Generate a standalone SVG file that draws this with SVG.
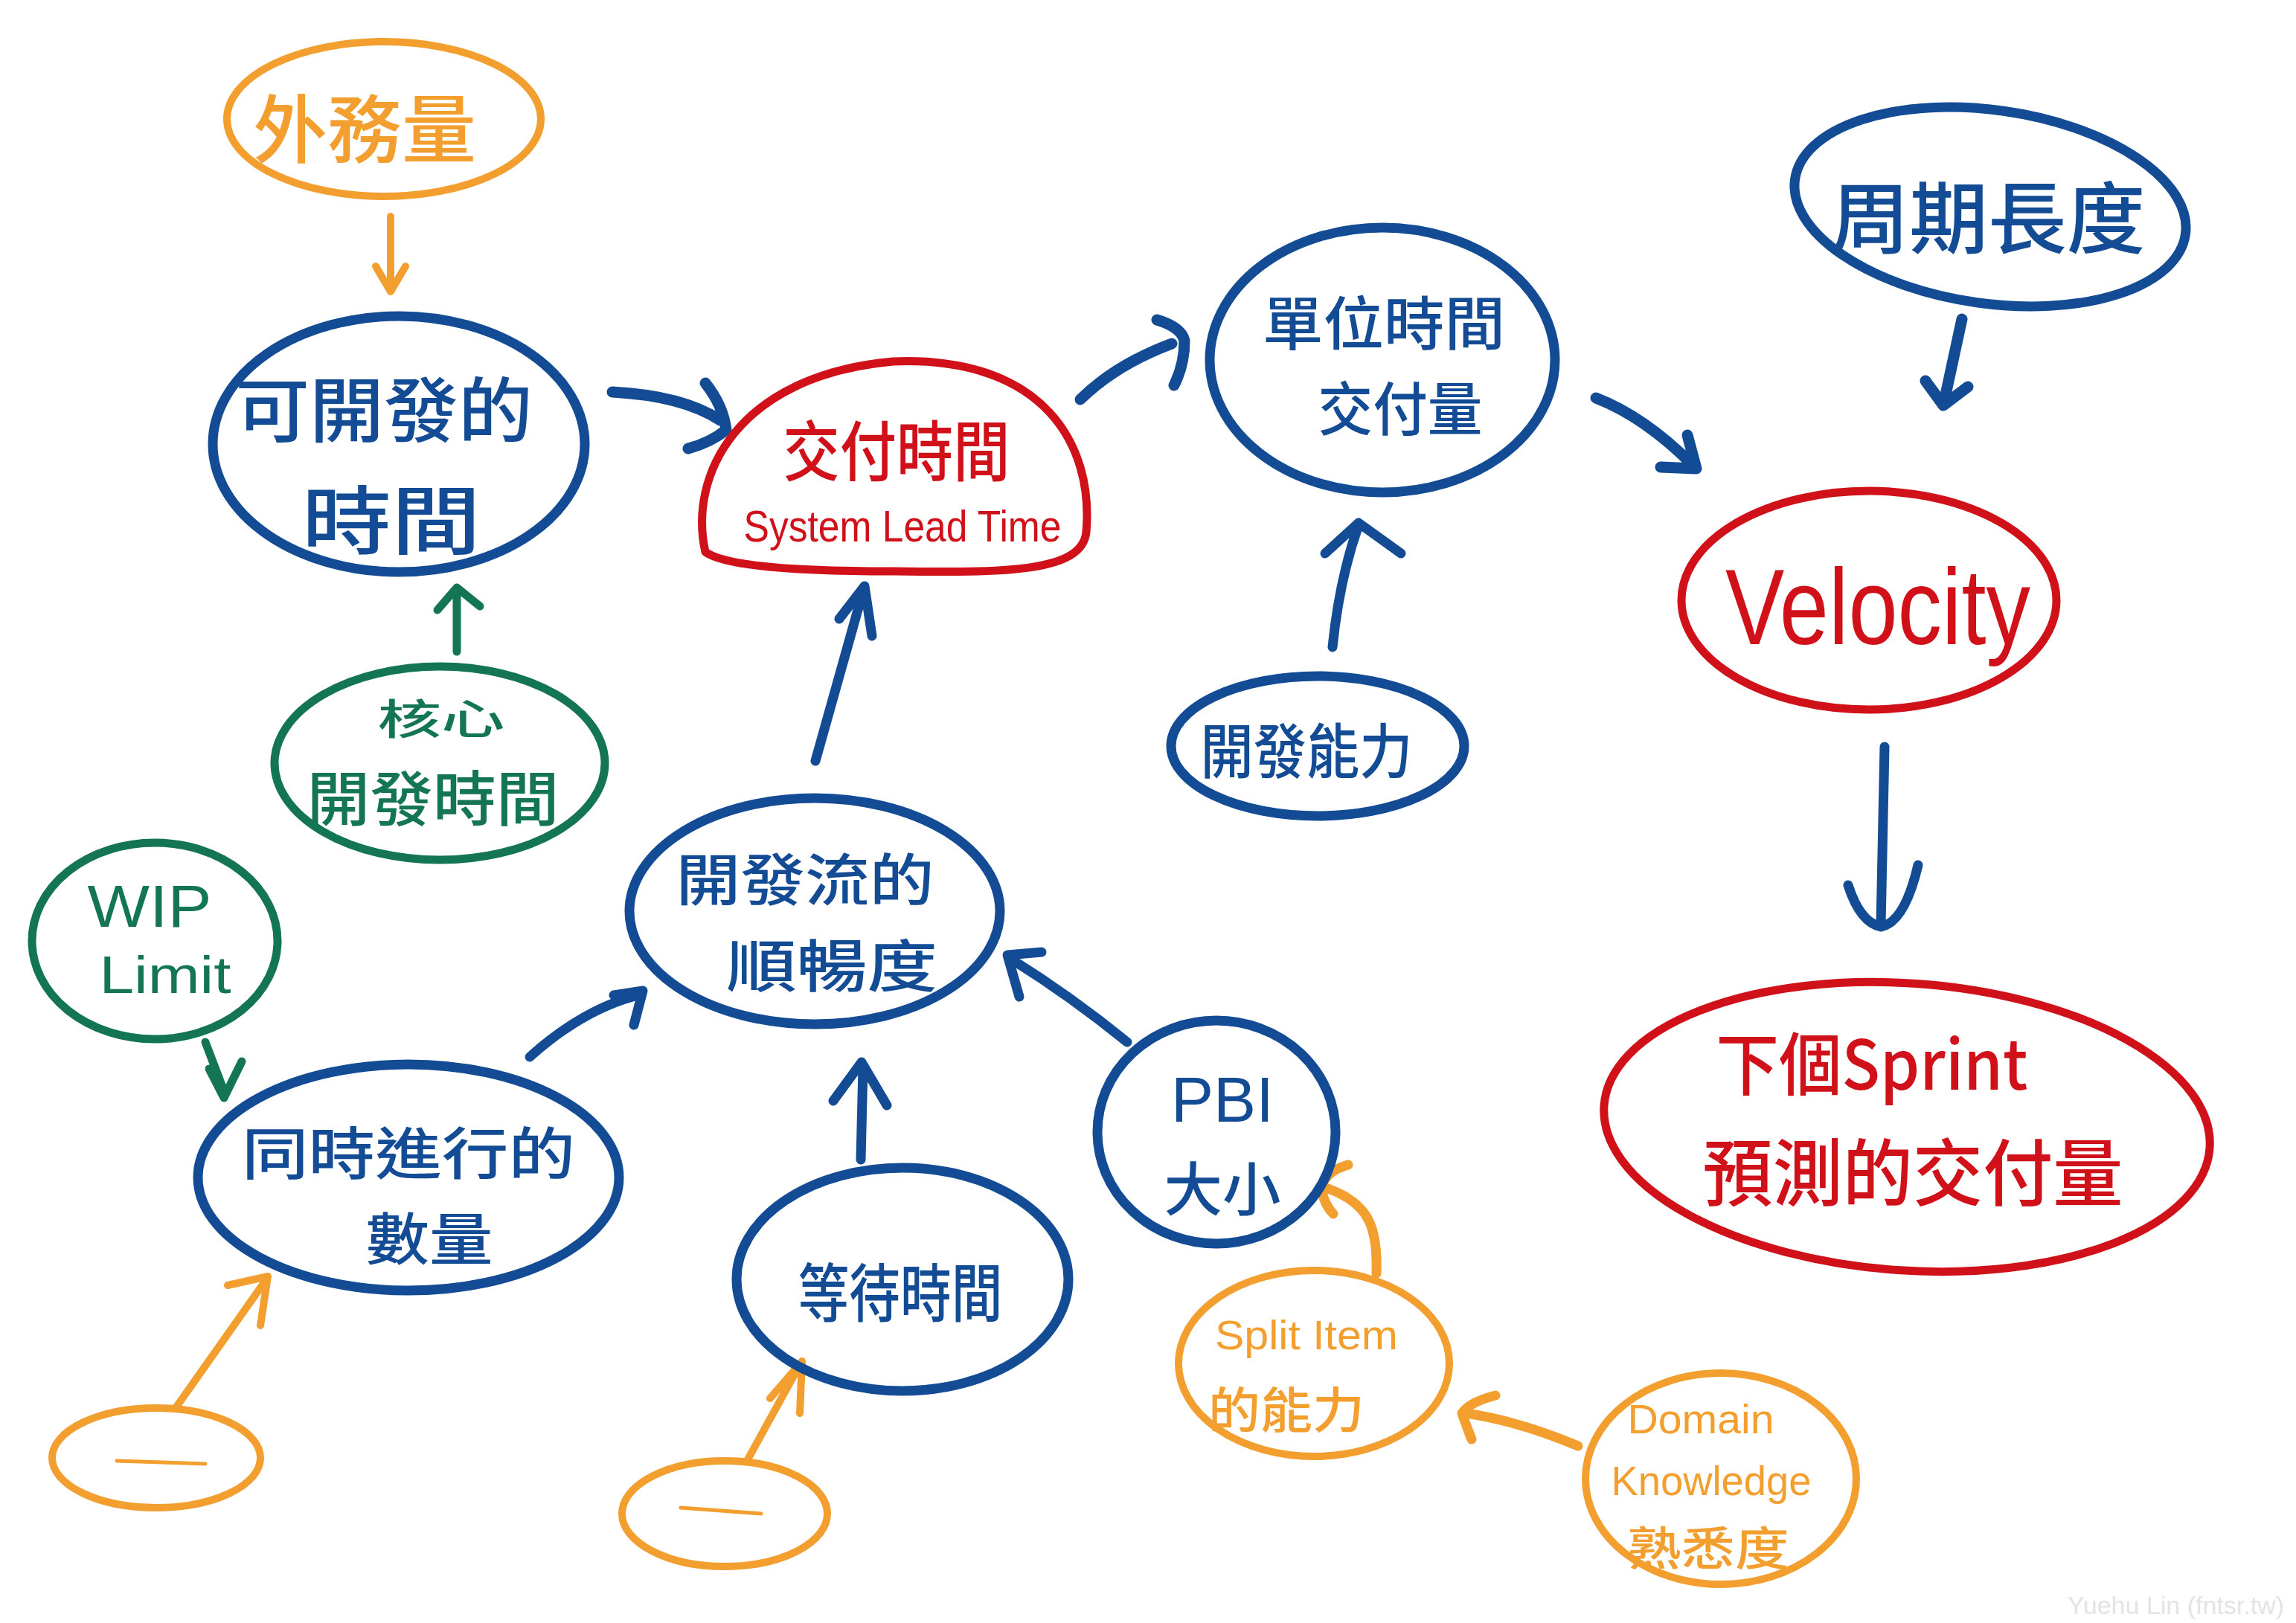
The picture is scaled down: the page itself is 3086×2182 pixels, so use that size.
<svg xmlns="http://www.w3.org/2000/svg" width="3086" height="2182" viewBox="0 0 3086 2182">
<style>
.b{stroke:#134c94;fill:none;stroke-width:13;stroke-linecap:round;stroke-linejoin:round}
.r{stroke:#d0111a;fill:none;stroke-width:11;stroke-linecap:round;stroke-linejoin:round}
.o{stroke:#f29f2f;fill:none;stroke-width:10;stroke-linecap:round;stroke-linejoin:round}
.g{stroke:#137553;fill:none;stroke-width:11;stroke-linecap:round;stroke-linejoin:round}
text{font-family:"Noto Sans CJK TC","Noto Sans CJK SC",sans-serif;font-weight:500;text-anchor:middle;dominant-baseline:central}
.lat{font-family:"Liberation Sans","Noto Sans",sans-serif}
.tb{fill:#134c94}.tr{fill:#d0111a}.to{fill:#f29f2f}.tg{fill:#137553}
</style>
<rect width="3086" height="2182" fill="#ffffff"/>
<g id="connectors">
<path class="o" d="M525,291 L525,388 M505,358 L525,392 L545,358"/>
<path class="b" style="stroke-width:15" d="M823,527 C880,530 930,540 968,565 M948,515 Q972,545 976,578 Q955,595 925,603"/>
<path class="b" style="stroke-width:15" d="M1452,537 Q1500,490 1575,462 M1555,430 Q1588,440 1592,458 Q1592,490 1578,518"/>
<path class="b" style="stroke-width:15" d="M2145,535 Q2210,560 2275,625 M2232,628 L2280,630 L2268,585"/>
<path class="b" style="stroke-width:15" d="M2637,429 L2613,540 M2588,512 L2612,545 L2645,520"/>
<path class="b" d="M2533,1004 Q2530,1130 2528,1244 M2484,1190 Q2500,1240 2528,1246 Q2560,1240 2578,1163"/>
<path class="g" d="M614,876 L614,795 M588,820 L614,790 L645,815"/>
<path class="g" d="M276,1401 L303,1472 M281,1437 L301,1476 L325,1427"/>
<path class="b" d="M712,1421 Q780,1360 850,1340 M825,1338 L864,1332 L852,1378"/>
<path class="b" d="M1096,1023 Q1130,900 1160,795 M1128,832 L1162,788 L1172,855"/>
<path class="b" d="M1791,870 Q1800,780 1826,706 M1781,744 L1826,703 L1883,744"/>
<path class="b" d="M1515,1401 Q1440,1340 1360,1290 M1370,1340 L1354,1284 L1400,1280"/>
<path class="b" d="M1157,1559 L1160,1435 M1120,1480 L1158,1428 L1192,1486"/>
<path class="o" style="stroke-width:13" d="M1850,1712 C1852,1650 1840,1618 1785,1598 M1812,1566 Q1780,1575 1776,1598 Q1780,1620 1792,1632"/>
<path class="o" style="stroke-width:13" d="M2121,1944 Q2040,1910 1970,1900 M2010,1876 Q1975,1885 1965,1900 Q1972,1920 1978,1935"/>
<path class="o" d="M236,1893 L358,1720 M306,1728 L360,1716 L350,1782"/>
<path class="o" d="M1004,1964 L1075,1835 M1035,1880 L1078,1830 L1075,1900"/>
</g>
<g id="n-waiwuliang">
<ellipse class="o" cx="516" cy="160" rx="211" ry="104"/>
<text class="to" x="490" y="167" font-size="100" textLength="300" lengthAdjust="spacingAndGlyphs">外務量</text>
</g>
<g id="n-kekaifa">
<ellipse class="b" cx="536" cy="597" rx="250" ry="172"/>
<text class="tb" x="516" y="545" font-size="95" textLength="400" lengthAdjust="spacingAndGlyphs">可開發的</text>
<text class="tb" x="526" y="693" font-size="100" textLength="240" lengthAdjust="spacingAndGlyphs">時間</text>
</g>
<g id="n-jiaofu">
<path class="r" d="M948,742 C925,640 990,505 1200,486 C1405,478 1470,600 1460,715 C1455,770 1350,770 1200,768 C1080,768 975,762 948,742 Z"/>
<text class="tr" x="1205" y="600" font-size="88" textLength="305" lengthAdjust="spacingAndGlyphs">交付時間</text>
<text class="tr lat" x="1213" y="707" font-size="60" textLength="427" lengthAdjust="spacingAndGlyphs">System Lead Time</text>
</g>
<g id="n-danwei">
<ellipse class="b" cx="1858" cy="484" rx="232" ry="178"/>
<text class="tb" x="1860" y="430" font-size="78" textLength="326" lengthAdjust="spacingAndGlyphs">單位時間</text>
<text class="tb" x="1882" y="545" font-size="78" textLength="221" lengthAdjust="spacingAndGlyphs">交付量</text>
</g>
<g id="n-zhouqi">
<ellipse class="b" cx="2675" cy="278" rx="265" ry="130" transform="rotate(8 2675 278)"/>
<text class="tb" x="2672" y="286" font-size="105" textLength="423" lengthAdjust="spacingAndGlyphs">周期長度</text>
</g>
<g id="n-velocity">
<ellipse class="r" cx="2512" cy="807" rx="252" ry="147"/>
<text class="tr lat" x="2524" y="866" font-size="145" textLength="410" lengthAdjust="spacingAndGlyphs" style="dominant-baseline:alphabetic">Velocity</text>
</g>
<g id="n-next">
<ellipse class="r" cx="2563" cy="1515" rx="408" ry="193" transform="rotate(4 2563 1515)"/>
<text class="tr" x="2516" y="1424" font-size="92" textLength="419" lengthAdjust="spacingAndGlyphs">下個Sprint</text>
<text class="tr" x="2571" y="1570" font-size="98" textLength="565" lengthAdjust="spacingAndGlyphs">預測的交付量</text>
</g>
<g id="n-hexin">
<ellipse class="g" cx="591" cy="1026" rx="222" ry="130"/>
<text class="tg" x="593" y="962" font-size="56" textLength="171" lengthAdjust="spacingAndGlyphs">核心</text>
<text class="tg" x="582" y="1068" font-size="80" textLength="339" lengthAdjust="spacingAndGlyphs">開發時間</text>
</g>
<g id="n-wip">
<ellipse class="g" cx="208" cy="1265" rx="165" ry="132"/>
<text class="tg lat" x="201" y="1218" font-size="80" font-weight="bold" textLength="167" lengthAdjust="spacingAndGlyphs">WIP</text>
<text class="tg lat" x="222" y="1311" font-size="70" textLength="177" lengthAdjust="spacingAndGlyphs">Limit</text>
</g>
<g id="n-tongshi">
<ellipse class="b" cx="549" cy="1583" rx="283" ry="152"/>
<text class="tb" x="549" y="1546" font-size="76" textLength="448" lengthAdjust="spacingAndGlyphs">同時進行的</text>
<text class="tb" x="577" y="1661" font-size="76" textLength="171" lengthAdjust="spacingAndGlyphs">數量</text>
</g>
<g id="n-liu">
<ellipse class="b" cx="1095" cy="1225" rx="249" ry="152"/>
<text class="tb" x="1082" y="1178" font-size="76" textLength="347" lengthAdjust="spacingAndGlyphs">開發流的</text>
<text class="tb" x="1118" y="1294" font-size="76" textLength="284" lengthAdjust="spacingAndGlyphs">順暢度</text>
</g>
<g id="n-nengli">
<ellipse class="b" cx="1771" cy="1003" rx="197" ry="94"/>
<text class="tb" x="1756" y="1004" font-size="80" textLength="285" lengthAdjust="spacingAndGlyphs">開發能力</text>
</g>
<g id="n-pbi">
<ellipse class="b" cx="1635" cy="1522" rx="160" ry="150"/>
<text class="tb lat" x="1643" y="1478" font-size="85" font-weight="bold" textLength="138" lengthAdjust="spacingAndGlyphs">PBI</text>
<text class="tb" x="1643" y="1594" font-size="78" textLength="157" lengthAdjust="spacingAndGlyphs">大小</text>
</g>
<g id="n-dengdai">
<ellipse class="b" cx="1213" cy="1720" rx="223" ry="150"/>
<text class="tb" x="1210" y="1732" font-size="85" textLength="275" lengthAdjust="spacingAndGlyphs">等待時間</text>
</g>
<g id="n-split">
<ellipse class="o" cx="1766" cy="1833" rx="182" ry="125"/>
<text class="to lat" x="1756" y="1795" font-size="55" textLength="246" lengthAdjust="spacingAndGlyphs">Split Item</text>
<text class="to" x="1729" y="1891" font-size="66" textLength="210" lengthAdjust="spacingAndGlyphs">的能力</text>
</g>
<g id="n-domain">
<ellipse class="o" cx="2313" cy="1988" rx="182" ry="142"/>
<text class="to lat" x="2286" y="1907" font-size="56" textLength="197" lengthAdjust="spacingAndGlyphs">Domain</text>
<text class="to lat" x="2300" y="1990" font-size="56" textLength="269" lengthAdjust="spacingAndGlyphs">Knowledge</text>
<text class="to" x="2296" y="2078" font-size="62" textLength="217" lengthAdjust="spacingAndGlyphs">熟悉度</text>
</g>
<g id="n-blank1">
<ellipse class="o" cx="210" cy="1960" rx="140" ry="67"/>
<path class="o" style="stroke-width:5" d="M157,1964 L276,1968"/>
</g>
<g id="n-blank2">
<ellipse class="o" cx="974" cy="2035" rx="138" ry="71"/>
<path class="o" style="stroke-width:5" d="M915,2027 L1023,2035"/>
</g>
<text class="lat" x="3070" y="2158" font-size="34" fill="#e4e4e4" style="text-anchor:end">Yuehu Lin (fntsr.tw)</text>
</svg>
